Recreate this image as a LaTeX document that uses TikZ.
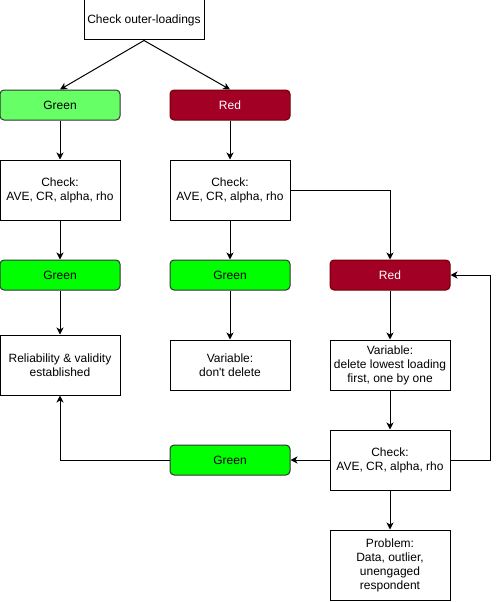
\documentclass[tikz,border=0pt]{standalone}
\usepackage{fontspec}
\setmainfont{Liberation Sans}
\usetikzlibrary{arrows.meta}
\definecolor{redfill}{HTML}{A20025}
\definecolor{redline}{HTML}{6F0000}
\definecolor{lightgreen}{HTML}{66FF66}
\definecolor{puregreen}{HTML}{00FF00}
\begin{document}
\begin{tikzpicture}[x=1pt,y=-1pt,
  every node/.style={font=\fontsize{12}{14}\selectfont, align=center, inner sep=0pt},
  plainbox/.style={draw=black, fill=white, line width=1pt, minimum width=120pt},
  greenbox/.style={draw=black!80, fill=puregreen, line width=1pt, rounded corners=4pt,
    minimum width=120pt, minimum height=30pt},
  lightbox/.style={greenbox, fill=lightgreen},
  redbox/.style={draw=redline, fill=redfill, text=white, line width=1pt, rounded corners=4pt,
    minimum width=120pt, minimum height=30pt},
  link/.style={draw=black, line width=1pt, -{Stealth[length=7pt,width=7pt,inset=2pt]}}
]
\useasboundingbox (0,0) rectangle (500,602);

% top of the flow
\node[plainbox, minimum height=40pt] (start) at (144,20) {Check outer-loadings};
\node[lightbox] (g1) at (60,105) {Green};
\node[redbox] (r1) at (230,105) {Red};

% quality checks
\node[plainbox, minimum height=60pt] (c1) at (60,190) {Check:\\AVE, CR, alpha, rho};
\node[plainbox, minimum height=60pt] (c2) at (230,190) {Check:\\AVE, CR, alpha, rho};

\node[greenbox] (g2) at (60,275) {Green};
\node[greenbox] (g3) at (230,275) {Green};
\node[redbox] (r2) at (390,275) {Red};

% outcomes
\node[plainbox, minimum height=60pt] (rel) at (60,365) {Reliability \& validity\\established};
\node[plainbox, minimum height=50pt] (keep) at (230,365) {Variable:\\don\textquotesingle t delete};
\node[plainbox, minimum height=50pt] (del) at (390,365) {Variable:\\delete lowest loading\\first, one by one};

% re-check loop
\node[plainbox, minimum height=60pt] (c3) at (390,460) {Check:\\AVE, CR, alpha, rho};
\node[greenbox] (g4) at (230,460) {Green};
\node[plainbox, minimum height=70pt] (prob) at (390,565) {Problem:\\Data, outlier,\\unengaged\\respondent};

\coordinate (loop) at (490,460);

% connectors
\draw[link] (start.south) -- (g1.north);
\draw[link] (start.south) -- (r1.north);
\draw[link] (g1) -- (c1);
\draw[link] (r1) -- (c2);
\draw[link] (c1) -- (g2);
\draw[link] (c2) -- (g3);
\draw[link] (c2.east) -| (r2.north);
\draw[link] (g2) -- (rel);
\draw[link] (g3) -- (keep);
\draw[link] (r2) -- (del);
\draw[link] (del) -- (c3);
\draw[link] (c3) -- (g4);
\draw[link] (g4.west) -| (rel.south);
\draw[link] (c3.east) -- (loop) |- (r2.east);
\draw[link] (c3) -- (prob);
\end{tikzpicture}
\end{document}
